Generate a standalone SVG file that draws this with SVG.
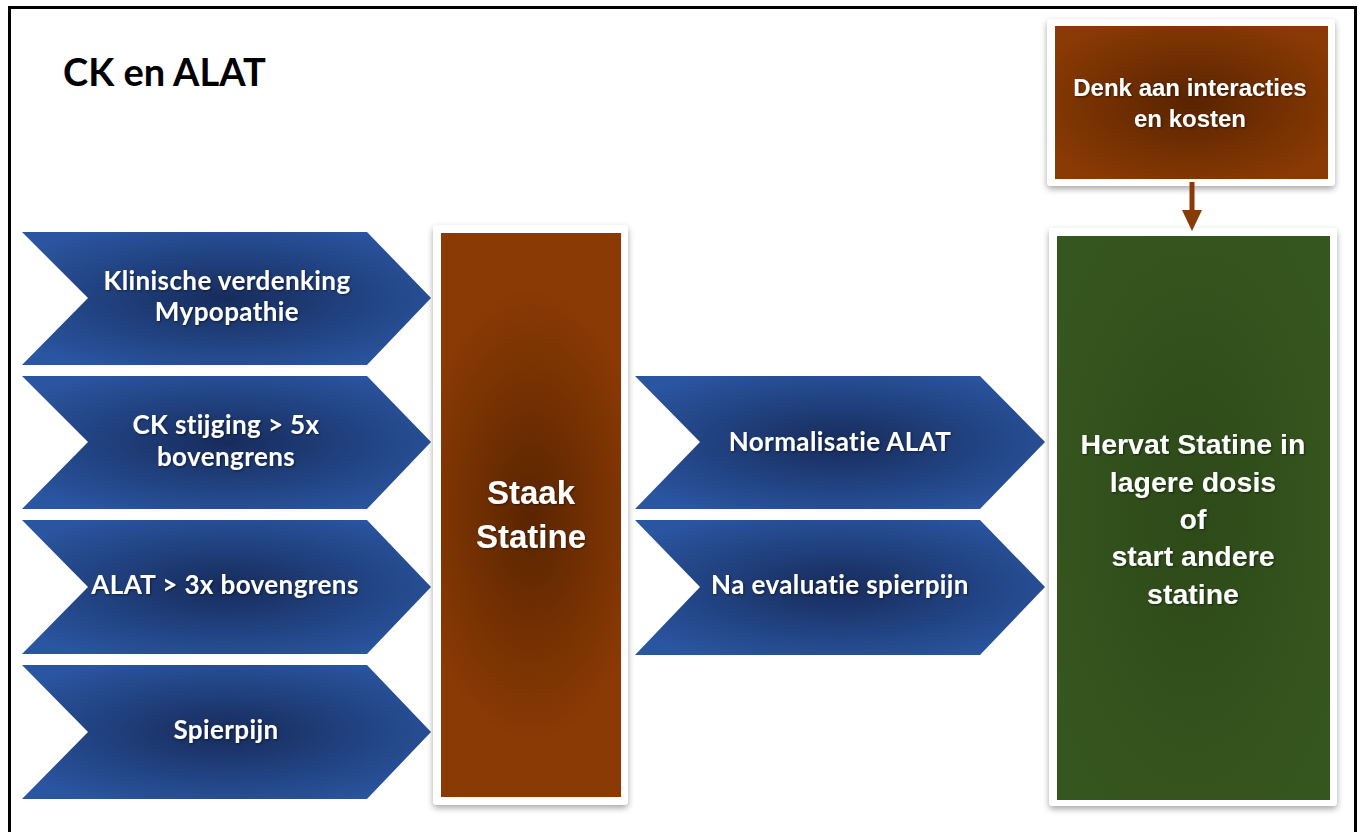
<svg xmlns="http://www.w3.org/2000/svg" width="1362" height="832" viewBox="0 0 1362 832">
<defs>
<radialGradient id="gBlue" cx="0.5" cy="0.5" r="0.6">
<stop offset="0" stop-color="#172c5c"/>
<stop offset="1" stop-color="#2a55a0"/>
</radialGradient>
<radialGradient id="gBrownV" cx="0.5" cy="0.5" r="0.5" gradientTransform="translate(0.5 0.5) scale(1.3 0.8) translate(-0.5 -0.5)">
<stop offset="0" stop-color="#5a2500"/>
<stop offset="1" stop-color="#8a3a04"/>
</radialGradient>
<radialGradient id="gBrownH" cx="0.5" cy="0.5" r="0.6">
<stop offset="0" stop-color="#592400"/>
<stop offset="1" stop-color="#8a3a04"/>
</radialGradient>
<radialGradient id="gGreen" cx="0.5" cy="0.5" r="0.6">
<stop offset="0" stop-color="#2d4a18"/>
<stop offset="1" stop-color="#36561f"/>
</radialGradient>
<filter id="shadow" x="-10%" y="-10%" width="120%" height="120%">
<feDropShadow dx="0" dy="3" stdDeviation="3" flood-color="#000" flood-opacity="0.35"/>
</filter>
<filter id="tshadow" x="-5%" y="-20%" width="110%" height="140%">
<feDropShadow dx="1" dy="1" stdDeviation="0.8" flood-color="#000" flood-opacity="0.5"/>
</filter>
</defs>
<style>
.chev{fill:url(#gBlue);}
.ctext{font-family:Lato,"Open Sans","Liberation Sans",sans-serif;font-weight:bold;font-size:26px;letter-spacing:0.4px;fill:#fff;text-anchor:middle;filter:url(#tshadow);}
.atext{font-family:"Liberation Sans",Arial,sans-serif;font-weight:bold;fill:#fff;text-anchor:middle;filter:url(#tshadow);}
.card{fill:#fff;filter:url(#shadow);}
.title{font-family:Lato,"Open Sans","Liberation Sans",sans-serif;font-weight:bold;font-size:38px;fill:#000;}
</style>
<rect x="0" y="0" width="1362" height="832" fill="#fff"/>
<rect x="9.5" y="7.5" width="1346" height="840" fill="none" stroke="#000" stroke-width="3"/>
<text class="title" x="63" y="86">CK en ALAT</text>

<g id="node-klinische">
<polygon class="chev" points="22,232 367,232 431,298 367,365 22,365 88,298"/>
<text class="ctext" x="227" y="290">Klinische verdenking</text>
<text class="ctext" x="227" y="321">Mypopathie</text>
</g>
<g id="node-ck">
<polygon class="chev" points="22,376 367,376 431,442 367,509 22,509 88,442"/>
<text class="ctext" x="226" y="434">CK stijging &gt; 5x</text>
<text class="ctext" x="226" y="466">bovengrens</text>
</g>
<g id="node-alat">
<polygon class="chev" points="22,520 367,520 431,587 367,654 22,654 88,587"/>
<text class="ctext" x="225" y="594" letter-spacing="0">ALAT &gt; 3x bovengrens</text>
</g>
<g id="node-spierpijn">
<polygon class="chev" points="22,665 367,665 431,732 367,799 22,799 88,732"/>
<text class="ctext" x="226" y="739">Spierpijn</text>
</g>

<g id="node-staak">
<rect class="card" x="433" y="225" width="195" height="580" rx="4"/>
<rect x="441" y="233" width="180" height="564" fill="url(#gBrownV)"/>
<text class="atext" x="531" y="504" font-size="33">Staak</text>
<text class="atext" x="531" y="548" font-size="33">Statine</text>
</g>

<g id="node-normalisatie">
<polygon class="chev" points="635,376 980,376 1045,442 980,509 635,509 700,442"/>
<text class="ctext" x="840" y="451">Normalisatie ALAT</text>
</g>
<g id="node-evaluatie">
<polygon class="chev" points="635,520 980,520 1045,587 980,655 635,655 700,587"/>
<text class="ctext" x="840" y="594">Na evaluatie spierpijn</text>
</g>

<g id="node-denk">
<rect class="card" x="1047" y="19" width="288" height="167" rx="4"/>
<rect x="1055" y="26" width="273" height="153" fill="url(#gBrownH)"/>
<text class="atext" x="1190" y="96" font-size="24">Denk aan interacties</text>
<text class="atext" x="1190" y="127" font-size="24">en kosten</text>
</g>

<g id="node-hervat">
<rect class="card" x="1049" y="228" width="288" height="578" rx="4"/>
<rect x="1057" y="236" width="273" height="564" fill="url(#gGreen)"/>
<text class="atext" x="1193" y="454" font-size="28.5">Hervat Statine in</text>
<text class="atext" x="1193" y="492" font-size="28.5">lagere dosis</text>
<text class="atext" x="1193" y="529" font-size="28.5">of</text>
<text class="atext" x="1193" y="566" font-size="28.5">start andere</text>
<text class="atext" x="1193" y="604" font-size="28.5">statine</text>
</g>

<g id="connectors">
<line x1="1192" y1="182" x2="1192" y2="212" stroke="#8a3a04" stroke-width="5"/>
<polygon points="1182,210 1202,210 1192,231" fill="#8a3a04"/>
</g>
</svg>
